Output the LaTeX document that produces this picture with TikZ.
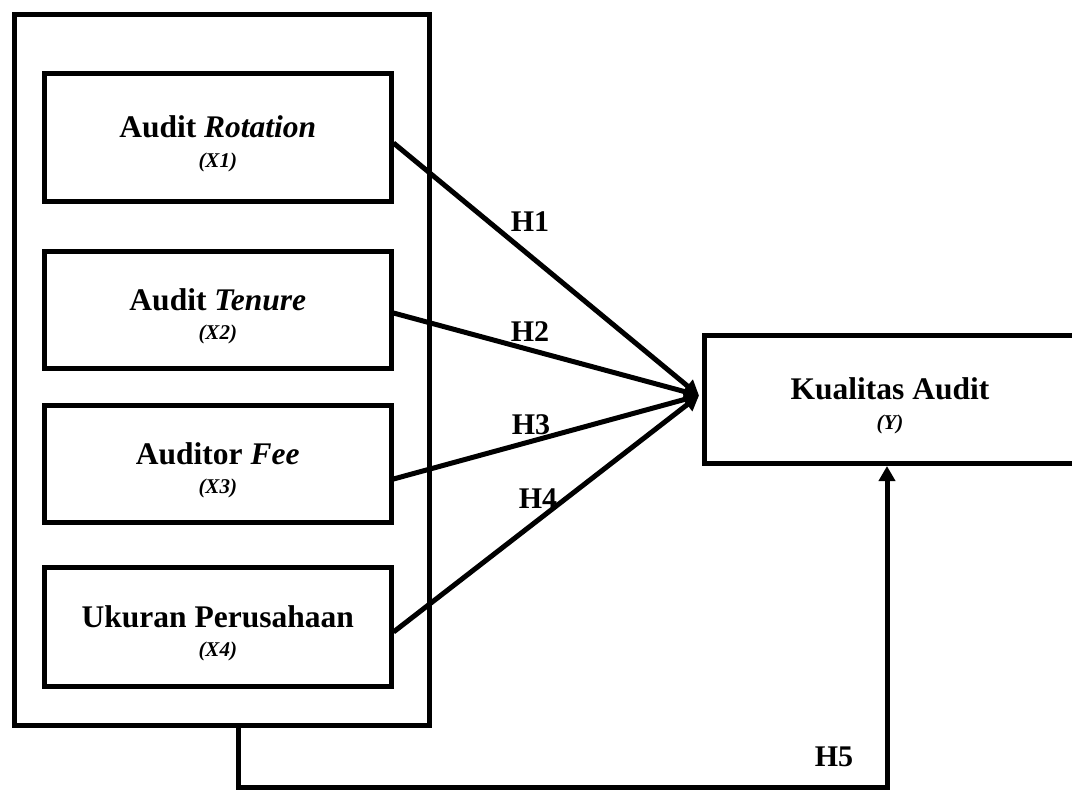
\documentclass[tikz,border=0pt]{standalone}
\usepackage{fontspec}
\setmainfont{Liberation Serif}
\usetikzlibrary{arrows.meta,calc}
\tikzset{
  box/.style={draw=black,line width=5pt,rectangle,inner sep=0pt,fill=white},
  mainlbl/.style={font=\fontsize{31.5}{36}\selectfont\bfseries,inner sep=0pt,anchor=base},
  sublbl/.style={font=\fontsize{21}{24}\selectfont\bfseries\itshape,inner sep=0pt,anchor=base},
  hlbl/.style={font=\fontsize{30}{34}\selectfont\bfseries,inner sep=0pt},
  conn/.style={line width=5pt,-{Triangle[length=15pt,width=16pt]}},
}
\begin{document}
\begin{tikzpicture}[x=1pt,y=-1pt]
\useasboundingbox (0,0) rectangle (1072,790);
\clip (0,0) rectangle (1072,790);
\fill[white] (0,0) rectangle (1072,790);
% outer group box
\node[box,minimum width=415pt,minimum height=711pt] (outer) at (221.5,369.5) {};
% inner boxes
\node[box,minimum width=346.5pt,minimum height=128pt] (b1) at (217.75,137.5) {};
\node[box,minimum width=346.5pt,minimum height=117pt] (b2) at (217.75,310) {};
\node[box,minimum width=346.5pt,minimum height=117pt] (b3) at (217.75,464) {};
\node[box,minimum width=346.5pt,minimum height=119pt] (b4) at (217.75,627) {};
% dependent variable box (runs off the right edge)
\node[box,minimum width=375pt,minimum height=128pt] (yb) at (892,399.5) {};
% texts
\node[mainlbl] (t1) at (b1.center) {Audit \textit{Rotation}};
\node[sublbl] (s1) at ([yshift=-29.5pt]b1.center) {(X1)};
\node[mainlbl] (t2) at (b2.center) {Audit \textit{Tenure}};
\node[sublbl] (s2) at ([yshift=-29.5pt]b2.center) {(X2)};
\node[mainlbl] (t3) at (b3.center) {Auditor \textit{Fee}};
\node[sublbl] (s3) at ([yshift=-29.5pt]b3.center) {(X3)};
\node[mainlbl] (t4) at (b4.center) {Ukuran Perusahaan};
\node[sublbl] (s4) at ([yshift=-29.5pt]b4.center) {(X4)};
\node[mainlbl] (ty) at ([xshift=-2pt]yb.center) {Kualitas Audit};
\node[sublbl] (sy) at ([xshift=-2pt,yshift=-29.5pt]yb.center) {(Y)};
% connectors
\coordinate (tgt) at ([xshift=-3pt,yshift=4pt]yb.west);
\draw[conn] ([yshift=-5.5pt]b1.east) -- (tgt);
\draw[conn] ([yshift=-3pt]b2.east) -- (tgt);
\draw[conn] ([yshift=-15pt]b3.east) -- (tgt);
\draw[conn] ([yshift=-5pt]b4.east) -- (tgt);
\coordinate (c2) at (887,787);
\draw[conn] ([xshift=16.5pt]outer.south) |- (c2) -- (c2 |- yb.south);
% hypothesis labels
\node[hlbl] (h1) at (530,222) {H1};
\node[hlbl] (h2) at (530,332) {H2};
\node[hlbl] (h3) at (531,425) {H3};
\node[hlbl] (h4) at (538,499) {H4};
\node[hlbl] (h5) at (834,757) {H5};
\end{tikzpicture}
\end{document}
